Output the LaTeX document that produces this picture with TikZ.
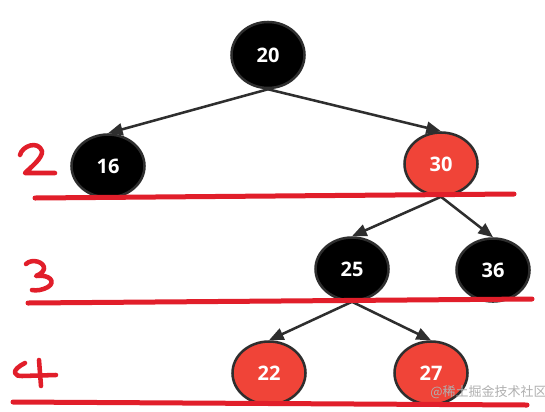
\documentclass[tikz,border=0pt]{standalone}
\usepackage{fontspec}
\setmainfont{Open Sans}
\newfontfamily\cjk{Noto Sans CJK SC}
\usetikzlibrary{shapes.geometric,arrows.meta}
\definecolor{nodered}{HTML}{F04438}
\definecolor{linered}{HTML}{E11E2A}
\definecolor{edgegray}{HTML}{2E2E2E}
\definecolor{wmgray}{HTML}{B0B0B0}
\begin{document}
\begin{tikzpicture}[x=0.75pt,y=-0.75pt,
  treenode/.style={ellipse, draw=edgegray, line width=1.9pt, minimum width=54.75pt, minimum height=47.25pt, inner sep=0pt, text=white, font=\bfseries\fontsize{15}{18}\selectfont},
  blacknode/.style={treenode, fill=black},
  rednode/.style={treenode, fill=nodered},
  treeedge/.style={draw=edgegray, line width=1.9pt, -{Triangle[length=11pt,width=9pt]}},
  levelline/.style={draw=linered, line width=3.75pt, line cap=round},
  handwrite/.style={draw=linered, line width=3.4pt, line cap=round, line join=round}]
\useasboundingbox (0,0) rectangle (545,411);
\fill[white] (0,0) rectangle (545,411);

% nodes
\node[blacknode, minimum height=49.5pt] (n20) at (268,55) {20};
\node[blacknode] (n16) at (108,166) {16};
\node[rednode] (n30) at (441,164) {30};
\node[blacknode] (n25) at (352,269) {25};
\node[blacknode] (n36) at (493,270) {36};
\node[rednode] (n22) at (269,373) {22};
\node[rednode] (n27) at (431,373) {27};

% edges
\draw[treeedge] (n20.south) -- (n16.north);
\draw[treeedge] (n20.south) -- (n30.north);
\draw[treeedge] (n30.south) -- (n25.north);
\draw[treeedge] (n30.south) -- (n36.north);
\draw[treeedge] (n25.south) -- (n22.north);
\draw[treeedge] (n25.south) -- (n27.north);

% level lines
\coordinate (l1a) at (35,198); \coordinate (l1b) at (514,194);
\coordinate (l2a) at (28,303); \coordinate (l2b) at (532,299);
\coordinate (l3a) at (13,402); \coordinate (l3b) at (527,405);
\draw[levelline] (l1a) -- (l1b);
\draw[levelline] (l2a) -- (l2b);
\draw[levelline] (l3a) -- (l3b);

% handwritten level numbers
\draw[handwrite] (20,155) .. controls (22,146) and (38,140) .. (42,151)
  .. controls (43,158) and (30,168) .. (25,173) -- (55,173);
\draw[handwrite] (26,264) .. controls (32,258) and (45,262) .. (44,269)
  .. controls (43,273) and (38,275) .. (36,276)
  .. controls (50,274) and (56,282) .. (48,287)
  .. controls (43,290) and (36,291) .. (32,290);
\draw[handwrite] (25,363) .. controls (19,366) and (14,370) .. (15,373)
  .. controls (16,376) and (19,376) .. (22,376) -- (56,375);
\draw[handwrite] (39,360) -- (41,386);

% watermark
\node[text=wmgray, font=\cjk\fontsize{9.75}{12}\selectfont, anchor=west, inner sep=0pt] (wm) at (430,392) {@稀土掘金技术社区};
\end{tikzpicture}
\end{document}
